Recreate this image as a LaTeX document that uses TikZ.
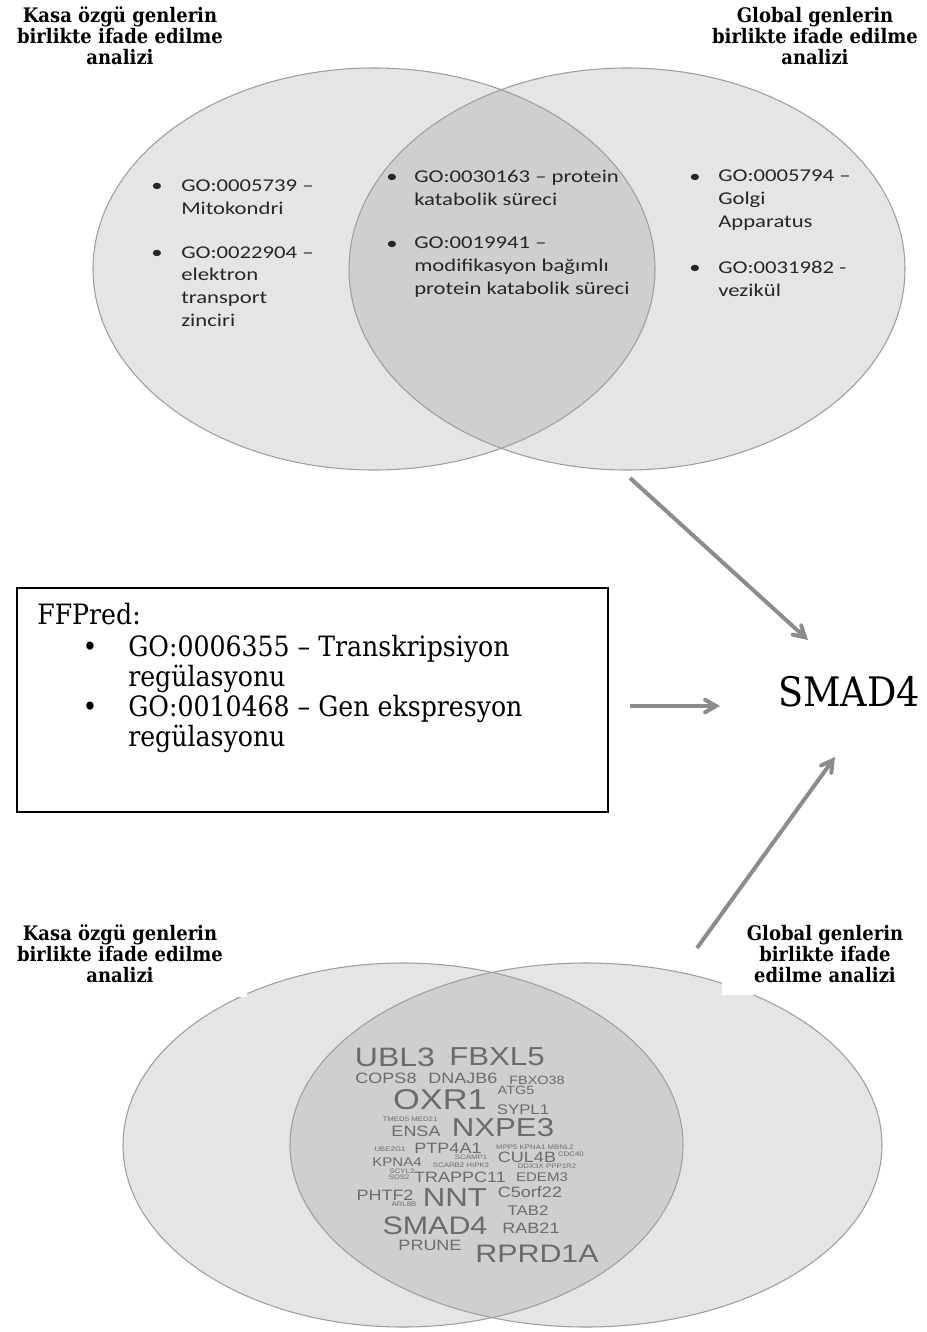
\documentclass[tikz,border=0pt]{standalone}
\usepackage{fontspec}
\setmainfont{DejaVu Serif}[FakeStretch=0.9]
\newfontfamily\gofont{Carlito}[FakeStretch=1.26]
\newfontfamily\cloudfont{Liberation Sans}[FakeStretch=1.2]
\usetikzlibrary{arrows}
\definecolor{vennfill}{gray}{0.9}
\definecolor{lensfill}{gray}{0.81}
\definecolor{vennline}{gray}{0.62}
\definecolor{cloudgray}{gray}{0.42}
\definecolor{arrowgray}{gray}{0.55}
\tikzset{
    %Define standard arrow tip
    >=angle 60,
    %Define style for set headings
    baslik/.style={
           font=\bfseries\fontsize{15pt}{15.75pt}\selectfont,
           align=center,
           anchor=base,
           inner sep=0pt},
    %Define style for GO items in the circles
    madde/.style={
           font=\gofont\fontsize{13.5pt}{17pt}\selectfont,
           text=black!85,
           align=left,
           anchor=base west,
           inner sep=0pt},
    nokta/.style={
           font=\gofont\fontsize{13.5pt}{17pt}\selectfont,
           text=black!85,
           anchor=base,
           inner sep=0pt},
    % FFPred box
    kutuyazi/.style={
           font=\fontsize{21pt}{22.5pt}\selectfont,
           align=left,
           anchor=base west,
           inner sep=0pt},
    % word cloud sizes
    kelime/.style={
           font=\cloudfont\fontsize{#1}{#1}\selectfont,
           text=cloudgray,
           inner sep=0pt},
    % Define arrow style
    ok/.style={
           ->,
           draw=arrowgray,
           line width=3pt}
}

\begin{document}
\begin{tikzpicture}[x=0.75pt,y=-0.75pt]

\fill[white] (0,0) rectangle (927,1332);
\useasboundingbox (0,0) rectangle (927,1332);

 %top venn
\fill[vennfill] (374,269) ellipse [x radius=281, y radius=201];
\fill[vennfill] (627,269) ellipse [x radius=278, y radius=201];
\begin{scope}
    \clip (374,269) ellipse [x radius=281, y radius=201];
    \fill[lensfill] (627,269) ellipse [x radius=278, y radius=201];
\end{scope}
\draw[vennline, line width=0.8pt] (374,269) ellipse [x radius=281, y radius=201];
\draw[vennline, line width=0.8pt] (627,269) ellipse [x radius=278, y radius=201];

 % multi-line nodes sit on their last baseline
\node[baslik] (kasa1) at (120,64) {Kasa özgü genlerin\\birlikte ifade edilme\\analizi};
\node[baslik] (glob1) at (815,64) {Global genlerin\\birlikte ifade edilme\\analizi};

\node[nokta] (b1) at (157,191) {•};
\node[madde] (m1) at (181,214) {GO:0005739 –\\Mitokondri};
\node[nokta] (b2) at (157,258) {•};
\node[madde] (m2) at (181,326) {GO:0022904 –\\elektron\\transport\\zinciri};
\node[nokta] (b3) at (392,182) {•};
\node[madde] (m3) at (414,205) {GO:0030163 – protein\\katabolik süreci};
\node[nokta] (b4) at (392,249) {•};
\node[madde] (m4) at (414,294) {GO:0019941 –\\modifikasyon bağımlı\\protein katabolik süreci};
\node[nokta] (b5) at (695,182) {•};
\node[madde] (m5) at (718,227) {GO:0005794 –\\Golgi\\Apparatus};
\node[nokta] (b6) at (695,273) {•};
\node[madde] (m6) at (718,296) {GO:0031982 -\\vezikül};

 %FFPred box
\draw[line width=1.1pt] (17,588) rectangle (608,812);
\node[kutuyazi] (ffp) at (37,624) {FFPred:};
\node[kutuyazi, anchor=base] (fb1) at (90,656) {•};
\node[kutuyazi] (f1) at (128,686) {GO:0006355 – Transkripsiyon\\regülasyonu};
\node[kutuyazi, anchor=base] (fb2) at (90,716) {•};
\node[kutuyazi] (f2) at (128,746) {GO:0010468 – Gen ekspresyon\\regülasyonu};

\node[font=\fontsize{30.5pt}{32pt}\selectfont, inner sep=0pt] (smad) at (849,692) {SMAD4};

 %bottom venn
\fill[vennfill] (403,1145) ellipse [x radius=280, y radius=182];
\fill[vennfill] (586,1145) ellipse [x radius=296, y radius=182];
\begin{scope}
    \clip (403,1145) ellipse [x radius=280, y radius=182];
    \fill[lensfill] (586,1145) ellipse [x radius=296, y radius=182];
\end{scope}
\draw[vennline, line width=0.8pt] (403,1145) ellipse [x radius=280, y radius=182];
\draw[vennline, line width=0.8pt] (586,1145) ellipse [x radius=296, y radius=182];

\fill[white] (0,915) rectangle (247,997);
\fill[white] (722,917) rectangle (927,995);
\node[baslik] (kasa2) at (120,982) {Kasa özgü genlerin\\birlikte ifade edilme\\analizi};
\node[baslik] (glob2) at (825,982) {Global genlerin\\birlikte ifade\\edilme analizi};

 %word cloud
\node[kelime=20pt] (w1) at (395,1057) {UBL3};
\node[kelime=19.5pt] (w2) at (497,1057) {FBXL5};
\node[kelime=11.25pt] (w3) at (386,1078) {COPS8};
\node[kelime=11.25pt] (w4) at (463,1078) {DNAJB6};
\node[kelime=9pt] (w5) at (537,1080) {FBXO38};
\node[kelime=21.5pt] (w6) at (440,1100) {OXR1};
\node[kelime=9pt] (w7) at (516,1090) {ATG5};
\node[kelime=10.5pt] (w8) at (523,1110) {SYPL1};
\node[kelime=4.9pt] (w9) at (410,1119) {TMED5 MED21};
\node[kelime=11.25pt] (w10) at (416,1131) {ENSA};
\node[kelime=19.5pt] (w11) at (503,1128) {NXPE3};
\node[kelime=4.9pt] (w12) at (390,1149) {UBE2G1};
\node[kelime=11.25pt] (w13) at (448,1148) {PTP4A1};
\node[kelime=4.9pt] (w14) at (535,1147) {MPP5 KPNA1 MBNL2};
\node[kelime=9.4pt] (w15) at (397,1162) {KPNA4};
\node[kelime=4.9pt] (w16) at (471,1157) {SCAMP1};
\node[kelime=4.9pt] (w17) at (461,1165) {SCARB2 HIPK3};
\node[kelime=11.25pt] (w18) at (527,1157) {CUL4B};
\node[kelime=4.9pt] (w19) at (571,1154) {CDC40};
\node[kelime=4.9pt] (w20) at (547,1166) {DDX3X PPP1R2};
\node[kelime=4.9pt] (w21) at (402,1171) {SCYL2};
\node[kelime=4.9pt] (w22) at (399,1177) {SOS2};
\node[kelime=11.25pt] (w23) at (460,1177) {TRAPPC11};
\node[kelime=9.4pt] (w24) at (542,1177) {EDEM3};
\node[kelime=11.25pt] (w25) at (385,1195) {PHTF2};
\node[kelime=19.5pt] (w26) at (455,1198) {NNT};
\node[kelime=11.25pt] (w27) at (530,1192) {C5orf22};
\node[kelime=4.9pt] (w28) at (404,1204) {ARL8B};
\node[kelime=10.5pt] (w29) at (528,1211) {TAB2};
\node[kelime=19pt] (w30) at (435,1226) {SMAD4};
\node[kelime=11.25pt] (w31) at (531,1228) {RAB21};
\node[kelime=11.25pt] (w32) at (430,1245) {PRUNE};
\node[kelime=19pt] (w33) at (537,1254) {RPRD1A};

 %arrows
\coordinate (ust) at (630,478);
\coordinate (ustuc) at (808,640);
\coordinate (orta) at (630,706);
\coordinate (ortauc) at (720,706);
\coordinate (alt) at (697,948);
\coordinate (altuc) at (835,757);
\draw[ok] (ust) -- (ustuc);
\draw[ok] (orta) -- (ortauc);
\draw[ok] (alt) -- (altuc);
\end{tikzpicture}
\end{document}
